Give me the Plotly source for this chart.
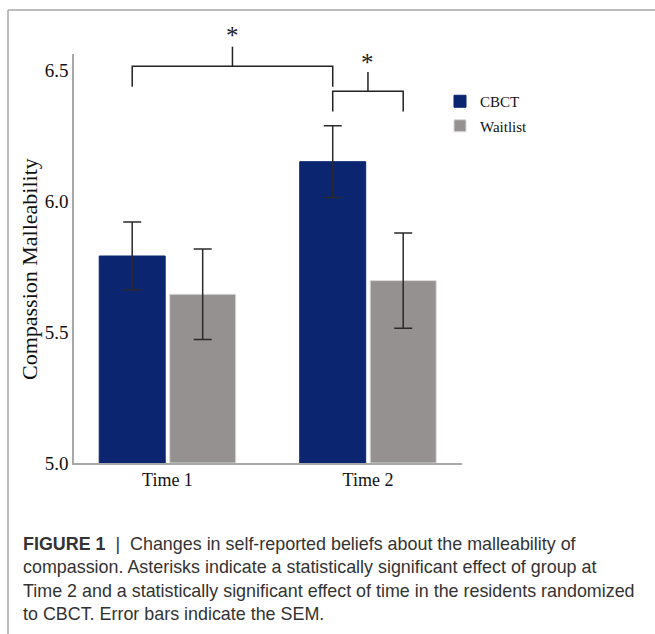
import plotly.graph_objects as go

W, H = 655, 634

categories = ["Time 1", "Time 2"]
groups = ["CBCT", "Waitlist"]
cbct_means = [5.79, 6.15]
cbct_sem = [0.13, 0.137]
wait_means = [5.644, 5.696]
wait_sem = [0.173, 0.182]
colors = ["#0b2570", "#959190"]
y_ticks = [5.0, 5.5, 6.0, 6.5]

serif = "Liberation Serif, Times New Roman, serif"

Y_RANGE = [5.0, 6.561]
Y_DOM_PX = (463, 54)      # bottom, top in pixels
X_DOM_PX = (74, 462)


def px2paper_x(px):
    return px / W


def px2paper_y(py):
    return 1 - py / H


Y_DOM = [px2paper_y(Y_DOM_PX[0]), px2paper_y(Y_DOM_PX[1])]


def y2paper(v):
    return Y_DOM[0] + (v - Y_RANGE[0]) / (Y_RANGE[1] - Y_RANGE[0]) * (Y_DOM[1] - Y_DOM[0])


fig = go.Figure()
for name, means, sem, col in [("CBCT", cbct_means, cbct_sem, colors[0]),
                              ("Waitlist", wait_means, wait_sem, colors[1])]:
    fig.add_trace(go.Bar(
        x=categories, y=[m - 5.0 for m in means], base=5.0, name=name, legendgroup=name,
        marker=dict(color=col, line=dict(color="#d8d8d8" if name == "Waitlist" else col, width=1)),
        error_y=dict(type="data", array=sem, color="#2a2a2a", thickness=1.5, width=9),
        hoverinfo="skip",
    ))

bargap = 0.297
slot = (1 - bargap) / 2
off = slot / 2

line = dict(color="#222222", width=1.5)
brackets = [
    # x0, x1, bar top, drop end, tick top, asterisk shift
    (0 - off, 1 - off, 6.514, 6.436, 6.589, -4),
    (1 - off, 1 + off, 6.419, 6.342, 6.492, -6),
]
for (x0, x1, yb, yd, yt, ys) in brackets:
    fig.add_shape(type="path", xref="x", yref="paper",
                  path=f"M {x0} {y2paper(yd)} L {x0} {y2paper(yb)} L {x1} {y2paper(yb)} L {x1} {y2paper(yd)}",
                  line=line)
    xm = (x0 + x1) / 2
    fig.add_shape(type="line", xref="x", yref="paper", x0=xm, x1=xm,
                  y0=y2paper(yb), y1=y2paper(yt), line=line)
    fig.add_annotation(x=xm, y=y2paper(yt), xref="x", yref="paper", text="*", showarrow=False,
                       yanchor="bottom", yshift=ys, font=dict(family=serif, size=25, color="#222"))

# frame
fig.add_shape(type="line", xref="paper", yref="paper", x0=px2paper_x(8), x1=1.0,
              y0=px2paper_y(10), y1=px2paper_y(10), line=dict(color="#a8a8a8", width=1.5))
fig.add_shape(type="line", xref="paper", yref="paper", x0=px2paper_x(8), x1=px2paper_x(8),
              y0=px2paper_y(10), y1=0, line=dict(color="#a8a8a8", width=1.5))

# y title
fig.add_annotation(xref="paper", yref="paper", x=px2paper_x(29), y=px2paper_y(269),
                   xanchor="center", yanchor="middle",
                   text="Compassion Malleability", textangle=-90, showarrow=False,
                   font=dict(family=serif, size=22, color="#111"))

caption = ("<b>FIGURE 1</b>  |  Changes in self-reported beliefs about the malleability of<br>"
           "compassion. Asterisks indicate a statistically significant effect of group at<br>"
           "Time 2 and a statistically significant effect of time in the residents randomized<br>"
           "to CBCT. Error bars indicate the SEM.")
fig.add_annotation(xref="paper", yref="paper", x=px2paper_x(21), y=px2paper_y(532),
                   xanchor="left", yanchor="top", align="left", showarrow=False,
                   text=caption, font=dict(family="Liberation Sans, Arial, sans-serif", size=17.9, color="#333"))

fig.update_layout(
    width=W, height=H,
    margin=dict(l=0, r=0, t=0, b=0, autoexpand=False),
    paper_bgcolor="white", plot_bgcolor="white",
    barmode="group", bargap=bargap, bargroupgap=0.064,
    showlegend=True,
    legend=dict(x=px2paper_x(440), y=px2paper_y(85), xanchor="left", yanchor="top",
                font=dict(family=serif, size=15, color="#111"), tracegroupgap=2,
                bgcolor="rgba(0,0,0,0)"),
    xaxis=dict(domain=[px2paper_x(X_DOM_PX[0]), px2paper_x(X_DOM_PX[1])], range=[-0.466, 1.469],
               showline=True, linecolor="#a8a8a8", linewidth=1.5, ticks="", automargin=False,
               tickfont=dict(family=serif, size=18, color="#111"), showgrid=False, zeroline=False),
    yaxis=dict(domain=Y_DOM, range=Y_RANGE,
               tickvals=y_ticks, ticktext=[f"{v:.1f}" for v in y_ticks], automargin=False,
               showline=True, linecolor="#a8a8a8", linewidth=1.5, ticks="",
               tickfont=dict(family=serif, size=19, color="#111"), showgrid=False, zeroline=False),
)

fig.write_html("out.html", config={"displayModeBar": False},
               post_script="document.body.style.margin='0';document.body.style.overflow='hidden';")
